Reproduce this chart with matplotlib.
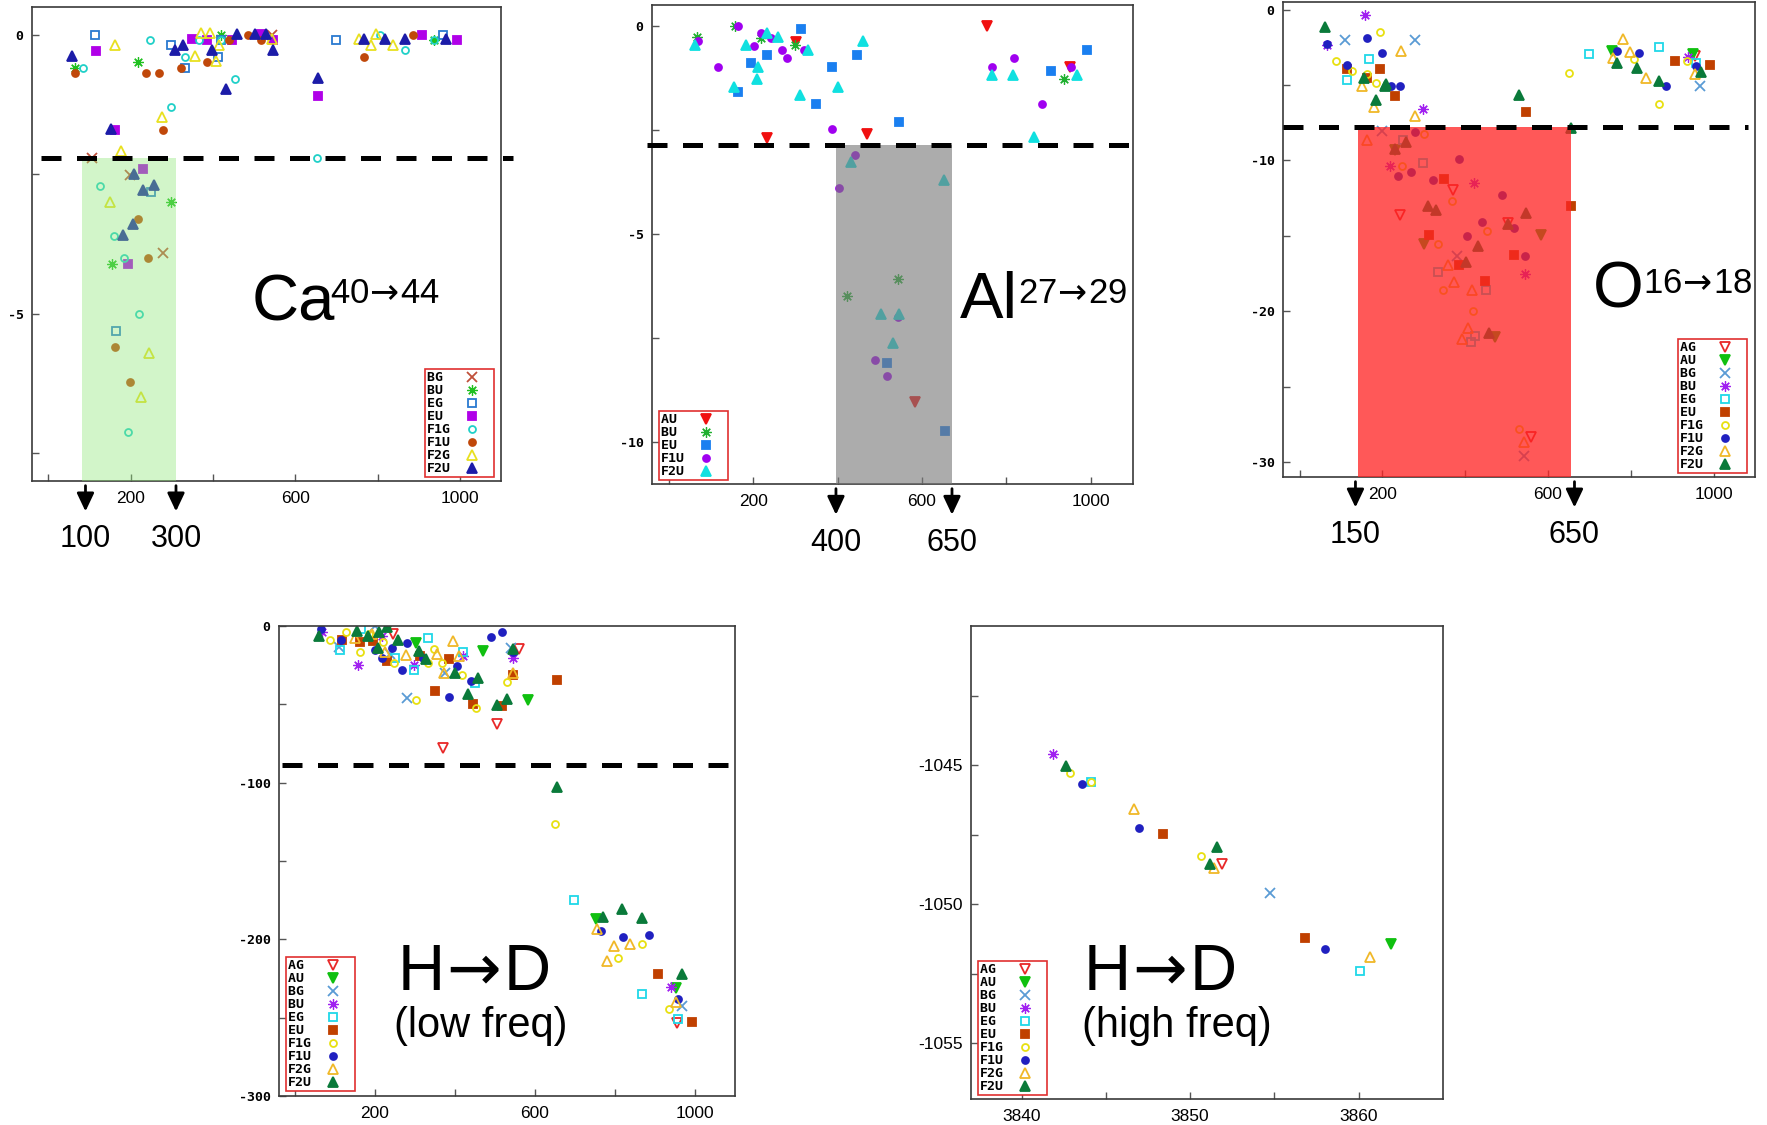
import matplotlib.pyplot as plt
from matplotlib.font_manager import FontProperties
from matplotlib.lines import Line2D

FIG_W, FIG_H = 1767, 1125
SANS = ["Liberation Sans", "DejaVu Sans"]
MONO = FontProperties(family="DejaVu Sans Mono", weight="bold", size=9.5)
ARROW = r"$\!\rightarrow\!$"

# marker shape and fill for each symmetry class
MARKERS = {
    "AG": ("v", False),
    "AU": ("v", True),
    "BG": ("x", False),
    "BU": ((8, 2, 0), False),
    "EG": ("s", False),
    "EU": ("s", True),
    "F1G": ("o", False),
    "F1U": ("o", True),
    "F2G": ("^", False),
    "F2U": ("^", True),
}
SIZES = {"v": 6.5, "^": 6.5, "s": 5.5, "o": 5, "x": 6.5}

# ---- Ca 40 -> 44 ----
CA_COLORS = {
    "BG": "#c0503a", "BU": "#20c020", "EG": "#2a7ad0", "EU": "#b000e8",
    "F1G": "#20d0c8", "F1U": "#c0480a", "F2G": "#e8e020", "F2U": "#1c1ca8",
}
CA_POINTS = {
    "BG": [(106, -2.21), (543, 0.0), (198, -2.51), (278, -3.91)],
    "BU": [(64, -0.59), (217, -0.49), (420, 0.0), (937, -0.10), (297, -3.0), (155, -4.11)],
    "EG": [(113, 0.0), (297, -0.19), (332, -0.59), (412, -0.39), (420, -0.10), (699, -0.10),
           (958, 0.0), (250, -2.81), (163, -5.31)],
    "EU": [(115, -0.29), (161, -1.71), (348, -0.08), (386, -0.10), (445, -0.10), (516, 0.02),
           (545, -0.10), (656, -1.09), (908, 0.0), (993, -0.10), (230, -2.41), (193, -4.11)],
    "F1G": [(85, -0.59), (246, -0.09), (332, -0.39), (367, -0.10), (419, -0.10), (453, -0.79),
            (299, -1.29), (652, -2.21), (807, 0.0), (866, -0.28), (937, -0.10), (126, -2.71),
            (160, -3.61), (184, -4.0), (220, -5.0), (193, -7.12)],
    "F1U": [(65, -0.68), (236, -0.68), (268, -0.68), (321, -0.59), (278, -1.71), (386, -0.49),
            (439, -0.10), (486, 0.0), (516, -0.10), (766, -0.39), (886, 0.0), (217, -3.31),
            (241, -4.0), (161, -5.59), (198, -6.22)],
    "F2G": [(161, -0.18), (177, -2.09), (275, -1.47), (356, -0.38), (372, 0.03), (393, 0.03),
            (407, -0.47), (415, -0.19), (543, -0.08), (756, -0.08), (783, -0.19), (797, 0.02),
            (837, -0.19), (150, -2.99), (244, -5.70), (225, -6.49)],
    "F2U": [(58, -0.38), (153, -1.69), (307, -0.28), (327, -0.18), (398, -0.28), (431, -0.97),
            (458, 0.02), (502, 0.02), (528, 0.02), (546, -0.28), (654, -0.78), (768, -0.08),
            (817, -0.08), (866, -0.08), (967, -0.08), (207, -2.5), (229, -2.79), (256, -2.69),
            (206, -3.39), (181, -3.59)],
}

# ---- Al 27 -> 29 ----
AL_COLORS = {"AU": "#f01010", "BU": "#20b030", "EU": "#1a7ff0", "F1U": "#a000f0", "F2U": "#10e0e0"}
AL_POINTS = {
    "AU": [(232, -2.70), (301, -0.38), (469, -2.60), (755, 0.0), (950, -1.0), (583, -9.03)],
    "BU": [(67, -0.27), (157, 0.0), (218, -0.30), (299, -0.46), (937, -1.28), (544, -6.09),
           (421, -6.49)],
    "EU": [(163, -1.59), (195, -0.89), (232, -0.70), (312, -0.08), (349, -1.88), (386, -1.0),
           (445, -0.70), (546, -2.30), (906, -1.08), (991, -0.59), (517, -8.10), (655, -9.73)],
    "F1U": [(68, -0.36), (116, -1.0), (163, 0.0), (201, -0.48), (218, -0.18), (243, -0.30),
            (269, -0.59), (280, -0.78), (321, -0.59), (386, -2.48), (765, -1.0), (818, -0.78),
            (885, -1.88), (954, -1.0), (440, -3.10), (404, -3.89), (542, -6.99), (488, -8.03),
            (516, -8.40)],
    "F2U": [(63, -0.46), (155, -1.47), (183, -0.46), (209, -1.27), (211, -0.98), (232, -0.18),
            (258, -0.27), (310, -1.67), (329, -0.58), (400, -1.47), (459, -0.36), (767, -1.18),
            (815, -1.18), (866, -2.68), (968, -1.18), (431, -3.28), (652, -3.69), (503, -6.91),
            (546, -6.91), (531, -7.61)],
}

# ---- shared palette for O and H->D ----
FULL_COLORS = {
    "AG": "#e82828", "AU": "#10c010", "BG": "#5a9bd5", "BU": "#a020f0", "EG": "#20d8e8",
    "EU": "#c04000", "F1G": "#e8e010", "F1U": "#2020c0", "F2G": "#f0b828", "F2U": "#0a7a3a",
}

# ---- O 16 -> 18 ----
O_POINTS = {
    "AG": [(243, -13.60), (370, -11.94), (503, -14.15), (560, -28.32), (956, -3.05)],
    "AU": [(754, -2.72), (950, -2.94), (300, -15.52), (584, -14.97), (231, -9.3), (471, -21.70)],
    "BG": [(109, -2.05), (280, -1.99), (966, -5.08), (200, -8.08), (381, -16.36), (541, -29.58)],
    "BU": [(157, -0.35), (67, -2.38), (298, -6.58), (938, -3.16), (219, -10.38), (421, -11.50),
           (544, -17.55)],
    "EG": [(114, -4.66), (167, -3.31), (699, -2.94), (867, -2.49), (958, -3.55), (250, -8.68),
           (298, -10.18), (334, -17.40), (451, -18.57), (423, -21.63), (413, -22.07)],
    "EU": [(115, -3.97), (163, -4.53), (195, -3.93), (231, -5.74), (548, -6.78), (907, -3.40),
           (992, -3.66), (350, -11.21), (312, -14.92), (386, -16.91), (518, -16.29),
           (447, -18.01), (656, -13.05)],
    "F1G": [(89, -3.40), (127, -4.06), (162, -4.30), (185, -4.88), (195, -1.46), (651, -4.19),
            (808, -3.31), (867, -6.27), (935, -3.40), (300, -8.26), (248, -10.38), (367, -12.69),
            (453, -14.66), (334, -15.56), (346, -18.61), (419, -19.98), (531, -27.81)],
    "F1U": [(67, -2.27), (114, -3.66), (162, -1.90), (200, -2.87), (221, -5.10), (243, -5.10),
            (766, -2.78), (819, -2.87), (885, -5.10), (958, -3.75), (237, -11.06), (270, -10.77),
            (280, -8.12), (322, -11.28), (386, -9.89), (440, -14.08), (405, -14.99),
            (489, -12.32), (517, -14.48), (544, -16.36)],
    "F2G": [(151, -5.10), (180, -6.45), (246, -2.76), (278, -7.09), (757, -3.20), (781, -1.94),
            (797, -2.83), (837, -4.53), (954, -4.26), (163, -8.68), (358, -16.91), (374, -18.10),
            (416, -18.61), (407, -21.15), (393, -21.85), (541, -28.70)],
    "F2U": [(62, -1.17), (155, -4.53), (184, -5.98), (209, -4.92), (207, -5.10), (531, -5.70),
            (655, -7.86), (767, -3.53), (816, -3.86), (867, -4.72), (969, -4.11), (231, -9.25),
            (258, -8.79), (310, -13.02), (329, -13.31), (431, -15.67), (401, -16.75),
            (503, -14.19), (548, -13.47), (457, -21.43)],
}

# ---- H -> D, low frequencies ----
HLOW_POINTS = {
    "AG": [(244, -5.1), (371, -77.8), (504, -62.4), (560, -14.7), (954, -253.6)],
    "AU": [(232, -0.9), (302, -11.1), (469, -15.8), (583, -47.2), (752, -187.2), (953, -231.0)],
    "BG": [(111, -13.7), (200, -0.2), (238, -17.9), (279, -45.7), (376, -29.7), (540, -14.3),
           (967, -242.7)],
    "BU": [(67, -4.1), (157, -24.8), (217, -6.2), (298, -24.8), (421, -19.0), (544, -20.7),
           (939, -230.5)],
    "EG": [(112, -15.2), (164, -1.9), (251, -20.5), (297, -28.2), (333, -7.9), (421, -16.5),
           (450, -36.1), (698, -174.6), (868, -234.8), (958, -250.9)],
    "EU": [(117, -8.8), (163, -10.0), (194, -9.8), (231, -22.2), (313, -19.0), (349, -41.5),
           (386, -21.2), (445, -49.6), (518, -51.1), (546, -31.2), (656, -34.6), (907, -222.2),
           (992, -252.5)],
    "F1G": [(87, -9.0), (128, -3.6), (163, -16.9), (186, -5.1), (219, -10.5), (248, -23.3),
            (302, -47.2), (333, -23.3), (347, -14.7), (368, -23.3), (418, -31.2), (453, -52.4),
            (531, -35.7), (651, -126.1), (807, -211.9), (867, -203.2), (936, -244.4)],
    "F1U": [(66, -1.9), (114, -9.0), (200, -15.4), (218, -20.7), (242, -14.1), (268, -28.2),
            (279, -11.1), (319, -20.7), (386, -45.1), (405, -25.4), (440, -35.0), (489, -7.3),
            (518, -4.1), (544, -16.9), (764, -194.7), (819, -198.7), (886, -197.4),
            (957, -238.0)],
    "F2G": [(150, -7.9), (192, -5.1), (225, -16.9), (277, -18.6), (356, -17.9), (372, -29.7),
            (394, -9.4), (411, -19.0), (544, -30.3), (756, -193.6), (781, -213.9), (798, -204.5),
            (838, -203.2), (953, -239.7)],
    "F2U": [(61, -6.2), (154, -3.0), (183, -6.2), (210, -3.6), (229, -0.9), (207, -14.3),
            (258, -8.8), (310, -15.8), (328, -21.2), (401, -30.3), (432, -43.6), (458, -32.9),
            (504, -50.6), (531, -46.8), (546, -14.7), (654, -102.8), (769, -185.7),
            (817, -180.8), (868, -186.3), (968, -222.4)],
}

# ---- H -> D, high frequencies ----
HHIGH_POINTS = {
    "AG": [(3851.87, -1048.54)],
    "AU": [(3861.90, -1051.43)],
    "BG": [(3854.74, -1049.60)],
    "BU": [(3841.88, -1044.60)],
    "EG": [(3844.13, -1045.59), (3860.08, -1052.39)],
    "EU": [(3848.37, -1047.48), (3856.80, -1051.20)],
    "F1G": [(3842.85, -1045.29), (3844.10, -1045.59), (3850.66, -1048.27)],
    "F1U": [(3843.58, -1045.67), (3846.98, -1047.27), (3857.98, -1051.61)],
    "F2G": [(3846.65, -1046.56), (3851.39, -1048.69), (3860.67, -1051.88)],
    "F2U": [(3842.65, -1045.02), (3851.59, -1047.96), (3851.20, -1048.57)],
}

FREQ_TICKS = [200, 600, 1000]
FREQ_MINOR = [0, 400, 800]
HIGH_TICKS = [3840, 3850, 3860]
HIGH_MINOR = [3845, 3855]

PANELS = [
    dict(box=(32, 7, 501, 481), points=CA_POINTS, colors=CA_COLORS,
         xlim=(-40, 1100), ylim=(-8.0, 0.5), xticks=FREQ_TICKS, xminor=FREQ_MINOR,
         yticks=[0, -5], yminor=[-2.5, -7.5], ylabels=["0", "-5"], mono=True,
         legend=("lower right", (0.985, 0.008)),
         cut=-2.2, cut_span=(0.02, 1.026), shade=(82, 310), shade_color="#8fe878", shade_alpha=0.4,
         arrows=[(90, "100"), (310, "300")],
         title=("Ca", "40" + ARROW + "44", 252, 320, 330, 303)),
    dict(box=(652, 5, 1133, 484), points=AL_POINTS, colors=AL_COLORS,
         xlim=(-40, 1100), ylim=(-11, 0.5), xticks=FREQ_TICKS, xminor=FREQ_MINOR,
         yticks=[0, -5, -10], yminor=[-2.5, -7.5], ylabels=["0", "-5", "-10"], mono=True,
         legend=("lower left", (0.015, 0.008)),
         cut=-2.85, cut_span=(-0.01, 1.0), shade=(395, 670), shade_color="#7a7a7a", shade_alpha=0.62,
         arrows=[(396, "400"), (671, "650")],
         title=("Al", "27" + ARROW + "29", 960, 318, 1018, 303)),
    dict(box=(1283, 2, 1755, 477), points=O_POINTS, colors=FULL_COLORS,
         xlim=(-40, 1100), ylim=(-31, 0.5), xticks=FREQ_TICKS, xminor=FREQ_MINOR,
         yticks=[0, -10, -20, -30], yminor=[-5, -15, -25], ylabels=["0", "-10", "-20", "-30"],
         mono=True, legend=("lower right", (0.983, 0.008)),
         cut=-7.8, cut_span=(0.0, 0.985), shade=(140, 655), shade_color="#ff2424", shade_alpha=0.76,
         arrows=[(135, "150"), (664, "650")],
         title=("O", "16" + ARROW + "18", 1593, 308, 1643, 293)),
    dict(box=(279, 626, 735, 1096), points=HLOW_POINTS, colors=FULL_COLORS,
         xlim=(-40, 1100), ylim=(-300, 0), xticks=FREQ_TICKS, xminor=FREQ_MINOR,
         yticks=[0, -100, -200, -300], yminor=[-50, -150, -250],
         ylabels=["0", "-100", "-200", "-300"], mono=True,
         legend=("lower left", (0.015, 0.01)),
         cut=-89, cut_span=(0.007, 1.018), shade=None, arrows=[],
         title=("H" + ARROW + "D", "(low freq)", 397, 990, 394, 1037)),
    dict(box=(971, 626, 1443, 1099), points=HHIGH_POINTS, colors=FULL_COLORS,
         xlim=(3837, 3865), ylim=(-1057, -1040), xticks=HIGH_TICKS, xminor=HIGH_MINOR,
         yticks=[-1045, -1050, -1055], yminor=[-1042.5, -1047.5, -1052.5],
         ylabels=["-1045", "-1050", "-1055"], mono=False,
         legend=("lower left", (0.015, 0.008)),
         cut=None, shade=None, arrows=[],
         title=("H" + ARROW + "D", "(high freq)", 1083, 990, 1082, 1037)),
]


def px_box(left, top, right, bottom):
    return [left / FIG_W, 1 - bottom / FIG_H, (right - left) / FIG_W, (bottom - top) / FIG_H]


def style_for(cls, color):
    marker, filled = MARKERS[cls]
    if cls == "BU":
        return dict(ls="none", marker=marker, ms=7.5, mew=0.9, color=color, mec=color)
    size = SIZES.get(marker, 6.5)
    return dict(ls="none", marker=marker, ms=size, mew=1.3, color=color,
                mfc=color if filled else "none", mec=color)


def draw_panel(fig, spec):
    ax = fig.add_axes(px_box(*spec["box"]))
    colors = spec["colors"]

    for cls in colors:
        pts = spec["points"].get(cls, [])
        ax.plot([p[0] for p in pts], [p[1] for p in pts], zorder=2, **style_for(cls, colors[cls]))

    ax.set_xlim(*spec["xlim"])
    ax.set_ylim(*spec["ylim"])

    if spec["shade"] is not None:
        ax.fill_between(spec["shade"], spec["ylim"][0], spec["cut"], color=spec["shade_color"],
                        alpha=spec["shade_alpha"], lw=0, zorder=4)
    if spec["cut"] is not None:
        ax.plot(spec["cut_span"], [spec["cut"]] * 2, transform=ax.get_yaxis_transform(),
                color="black", lw=3.6, ls=(0, (4.0, 3.1)), solid_capstyle="butt",
                dash_capstyle="butt", clip_on=False, zorder=5)

    for x, label in spec["arrows"]:
        ax.annotate("", xy=(x, -0.07), xytext=(x, -0.004),
                    xycoords=("data", "axes fraction"), textcoords=("data", "axes fraction"),
                    arrowprops=dict(arrowstyle="-|>,head_length=0.55,head_width=0.26",
                                    color="black", lw=2, mutation_scale=20),
                    annotation_clip=False)
        ax.text(x, -0.123, label, transform=ax.get_xaxis_transform(), ha="center", va="center",
                fontsize=22, family=SANS)

    ax.set_xticks(spec["xticks"])
    ax.set_xticks(spec["xminor"], minor=True)
    ax.set_xticklabels([str(t) for t in spec["xticks"]], family=SANS, fontsize=12.5)
    ax.set_yticks(spec["yticks"])
    ax.set_yticks(spec["yminor"], minor=True)
    if spec["mono"]:
        ax.set_yticklabels(spec["ylabels"], fontproperties=MONO)
    else:
        ax.set_yticklabels(spec["ylabels"], family=SANS, fontsize=12.5)

    ax.tick_params(which="both", direction="in", length=5, width=1, color="#555555",
                   top=False, right=False)
    ax.tick_params(axis="x", which="both", pad=7)
    ax.tick_params(axis="y", which="both", pad=6)
    for spine in ax.spines.values():
        spine.set_color("#3a3a3a")
        spine.set_linewidth(1.2)

    handles = [Line2D([], [], label=cls.ljust(3), **style_for(cls, colors[cls])) for cls in colors]
    loc, anchor = spec["legend"]
    leg = ax.legend(handles=handles, loc=loc, bbox_to_anchor=anchor, prop=MONO,
                    markerfirst=False, fancybox=False, framealpha=1, edgecolor="#e03030",
                    borderpad=0.15, labelspacing=0.0, handlelength=3.0, handletextpad=0.1,
                    borderaxespad=0, numpoints=1)
    leg.get_frame().set_linewidth(1.2)
    leg.set_zorder(6)

    main, sub, x0, y0, x1, y1 = spec["title"]
    big_sub = sub.startswith("(")
    fig.text(x0 / FIG_W, 1 - y0 / FIG_H, main, fontsize=47, family=SANS, va="baseline")
    fig.text(x1 / FIG_W, 1 - y1 / FIG_H, sub, fontsize=30 if big_sub else 25, family=SANS,
             va="baseline")
    return ax


def main():
    fig = plt.figure(figsize=(FIG_W / 100, FIG_H / 100), dpi=100)
    for spec in PANELS:
        draw_panel(fig, spec)
    fig.savefig("out.png", dpi=100)
    plt.close(fig)


if __name__ == "__main__":
    main()
